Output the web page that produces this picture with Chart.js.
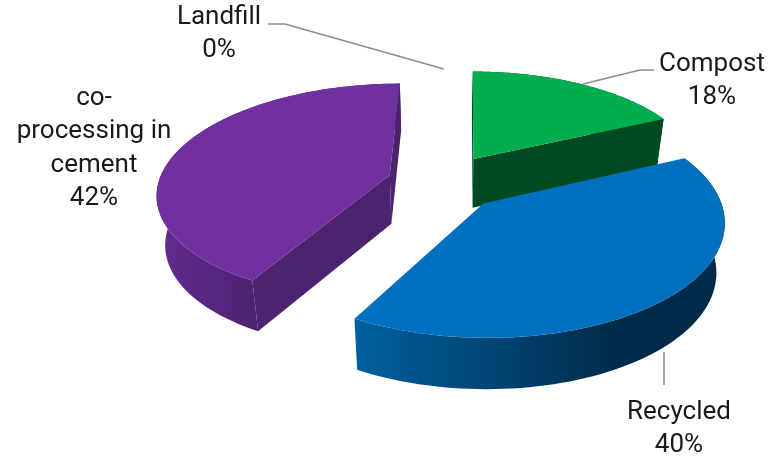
<!DOCTYPE html>
<html>
<head>
<meta charset="utf-8">
<title>Pie</title>
<script src="https://cdn.jsdelivr.net/npm/chart.js@4/dist/chart.umd.js"></script>
<style>
body { margin: 0; background: #fff; }
canvas { display: block; }
</style>
</head>
<body>
<canvas id="wasteChart" width="774" height="458"></canvas>
<script>
const categories = ['Compost', 'Recycled', 'co-processing in cement', 'Landfill'];
const shares = [18, 40, 42, 0];
// how each category label is wrapped on the picture
const labelLines = [['Compost'], ['Recycled'], ['co-', 'processing in', 'cement'], ['Landfill']];

const topColors = ['#00AE4F', '#0070C0', '#7030A0', '#A5A5A5'];
const cutColors = ['#004A21', '#00355C', '#4D2370', '#666666'];
// outer wall goes from the first colour on the left to the second on the right
const wallColors = [['#00602C', '#004A21'], ['#00609F', '#002A49'], ['#632C90', '#3C1B5A'], ['#666666', '#666666']];
const explode = [45, 46, 46, 0];

// view of the tilted pie
const view = { cx: 444, cy: 182, rx: 231, ry: 107, persp: 0.15, shear: 3, depth: 49, shrink: 0.03, explodeX: 1.1, explodeY: 1.2 };
const labelBoxes = [[712, 64], [679, 412], [94, 98], [219, 17]];
const leaders = [
    [[654, 70], [640, 70], [583, 84]],
    [[664, 352], [664, 385]],
    null,
    [[268, 24], [285, 24], [444, 69]]
];

// lower face sits a little smaller than the top one, seen from above
function project(u, v, lower) {
    const w = 1 - view.persp * v;
    const x = view.cx + view.rx * u / w - view.shear * v;
    const y = view.cy + view.ry * v / w;
    if (!lower) return [x, y];
    return [view.cx + (x - view.cx) * (1 - view.shrink), y + view.depth * (1 + 0.04 * v)];
}

function slicePoints(arc, lower) {
    const o = arc.options.offset / arc.outerRadius;
    const mid = (arc.startAngle + arc.endAngle) / 2;
    const ox = Math.cos(mid) * o * view.explodeX;
    const oy = Math.sin(mid) * o * view.explodeY;
    const pts = [];
    const steps = 80;
    for (let i = 0; i <= steps; i++) {
        const a = arc.startAngle + (arc.endAngle - arc.startAngle) * i / steps;
        pts.push(project(ox + Math.cos(a), oy + Math.sin(a), lower));
    }
    return { rim: pts, apex: project(ox, oy, lower) };
}

function fillPath(ctx, pts, fill) {
    ctx.beginPath();
    pts.forEach((p, i) => (i ? ctx.lineTo(p[0], p[1]) : ctx.moveTo(p[0], p[1])));
    ctx.closePath();
    ctx.fillStyle = fill;
    ctx.fill();
}

// replaces the flat pie: keeps the arcs Chart.js worked out, draws them tilted
const tiltedPie = {
    id: 'tiltedPie',
    beforeDatasetsDraw(chart) {
        const ctx = chart.ctx;
        const arcs = chart.getDatasetMeta(0).data;
        arcs.forEach((arc, i) => {
            if (arc.endAngle - arc.startAngle < 0.001) return;
            const top = slicePoints(arc, false);
            const low = slicePoints(arc, true);
            const n = top.rim.length - 1;
            const xs = top.rim.map(p => p[0]);
            const grad = ctx.createLinearGradient(Math.min(...xs), 0, Math.max(...xs), 0);
            grad.addColorStop(0, wallColors[i][0]);
            grad.addColorStop(0.72, wallColors[i][1]);
            grad.addColorStop(1, wallColors[i][1]);
            fillPath(ctx, top.rim.concat(low.rim.slice().reverse()), grad);
            // only the cut faces turned towards the viewer
            if (top.rim[0][0] < top.apex[0]) {
                fillPath(ctx, [top.apex, top.rim[0], low.rim[0], low.apex], cutColors[i]);
            }
            if (top.rim[n][0] > top.apex[0]) {
                fillPath(ctx, [top.apex, top.rim[n], low.rim[n], low.apex], cutColors[i]);
            }
            fillPath(ctx, [top.apex].concat(top.rim), arc.options.backgroundColor);
        });
        return false;
    },
    afterDraw(chart) {
        const ctx = chart.ctx;
        ctx.strokeStyle = '#8C8C8C';
        ctx.lineWidth = 1.5;
        leaders.forEach(line => {
            if (!line) return;
            ctx.beginPath();
            line.forEach((p, i) => (i ? ctx.lineTo(p[0], p[1]) : ctx.moveTo(p[0], p[1])));
            ctx.stroke();
        });
        ctx.fillStyle = '#1A1A1A';
        ctx.font = '26px Roboto';
        ctx.textAlign = 'center';
        ctx.textBaseline = 'middle';
        categories.forEach((name, i) => {
            const lines = labelLines[i].concat(shares[i] + '%');
            lines.forEach((text, j) => {
                ctx.fillText(text, labelBoxes[i][0], labelBoxes[i][1] + j * 33.5);
            });
        });
    }
};

new Chart(document.getElementById('wasteChart'), {
    type: 'pie',
    data: {
        labels: categories,
        datasets: [{
            data: shares,
            backgroundColor: topColors,
            borderWidth: 0,
            offset: explode
        }]
    },
    options: {
        responsive: false,
        animation: false,
        plugins: {
            legend: { display: false },
            tooltip: { enabled: false }
        }
    },
    plugins: [tiltedPie]
});
</script>
</body>
</html>
